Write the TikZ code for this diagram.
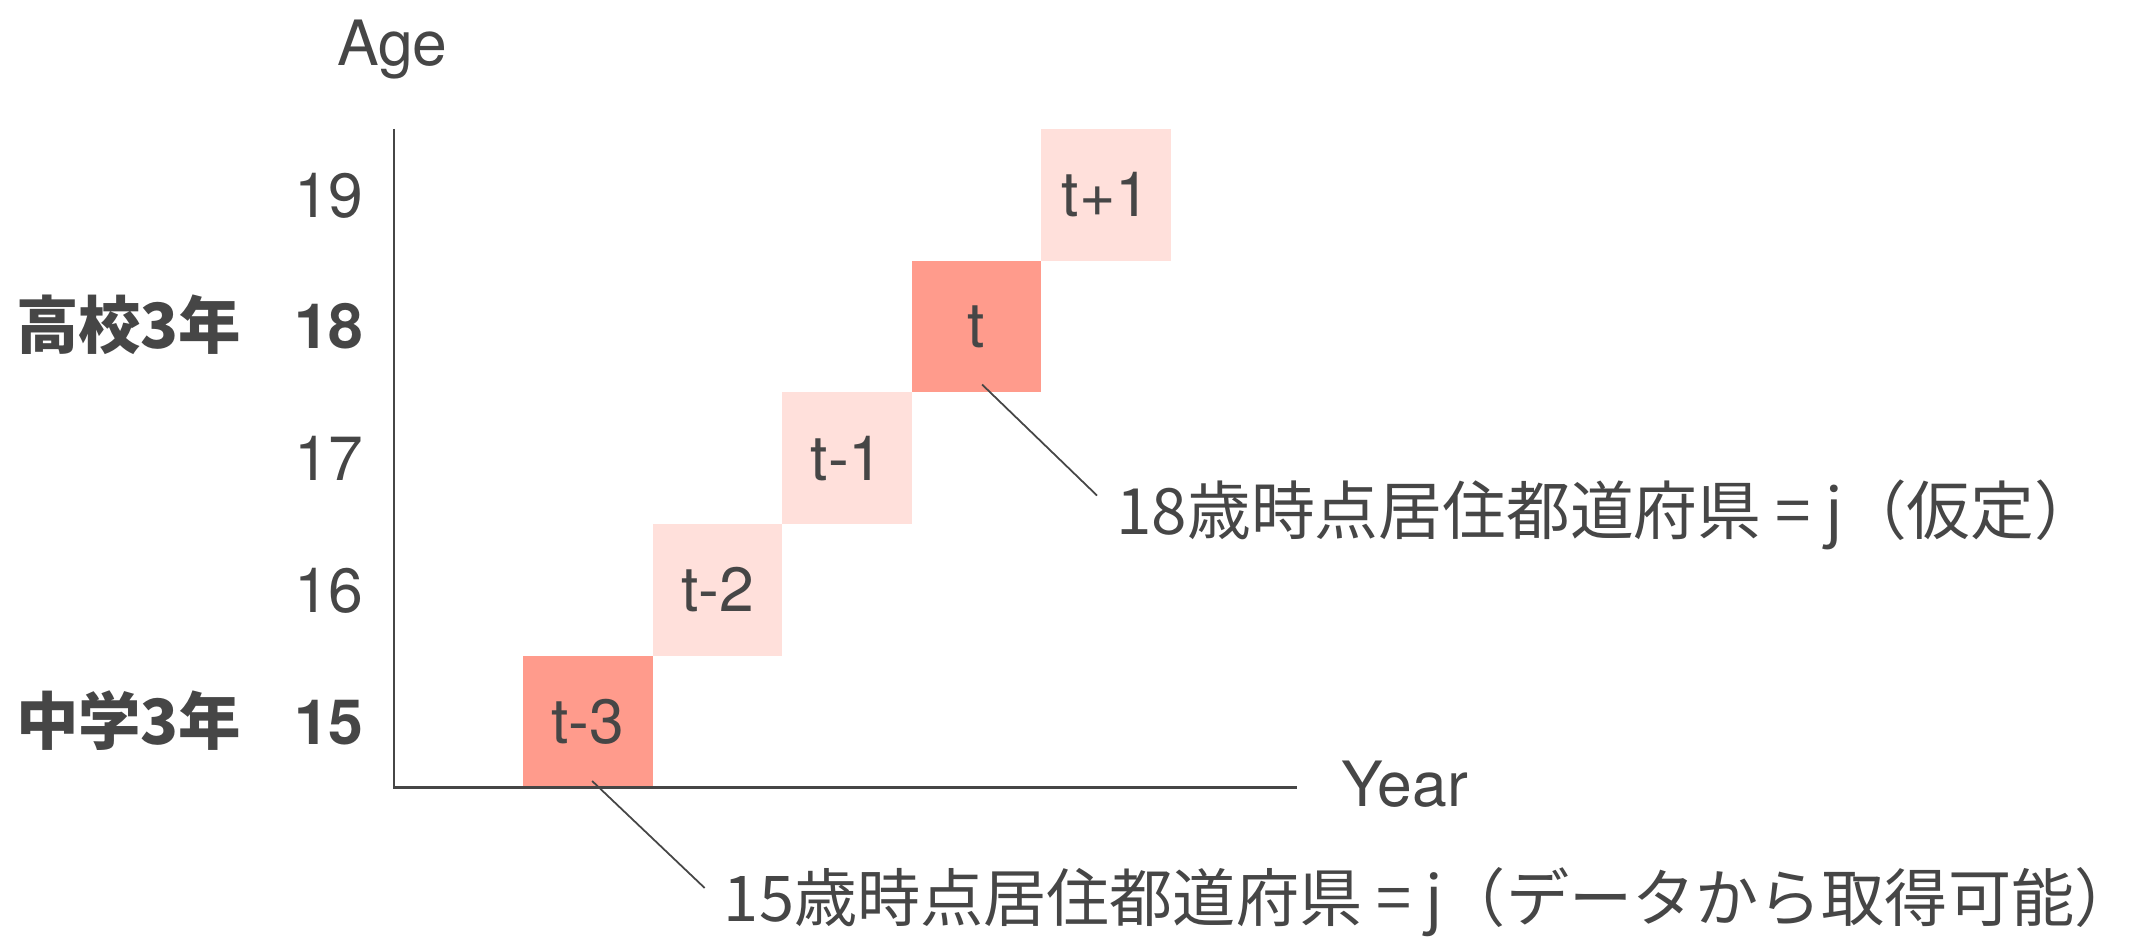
\documentclass[tikz,border=0pt]{standalone}
\usepackage{fontspec}
\setmainfont{TeX Gyre Heros}
\newfontfamily\cjk{Noto Sans CJK JP}
\definecolor{txt}{HTML}{464646}
\definecolor{darkcell}{HTML}{FF9B8C}
\definecolor{lightcell}{HTML}{FFE0DB}
\begin{document}
\begin{tikzpicture}[x=1pt,y=-1pt,
  every node/.style={inner sep=0pt, text=txt, font=\fontsize{46}{52}\selectfont},
  cellbox/.style={minimum width=95.4pt, minimum height=97pt, draw=none},
  darkbox/.style={cellbox, fill=darkcell},
  lightbox/.style={cellbox, fill=lightcell},
  axisline/.style={draw=txt, line width=1.6pt},
  leader/.style={draw=txt, line width=1.3pt},
  rowlab/.style={anchor=base east},
  boldlab/.style={anchor=base east, font=\fontsize{46}{52}\selectfont\cjk\bfseries},
  note/.style={anchor=base west, font=\fontsize{47}{52}\selectfont\cjk}
]
\useasboundingbox (0,0) rectangle (1568,695);
% cells
\node[darkbox]  (c3) at (433.1,531.5) {t-3};
\node[lightbox] (c2) at (528.5,434.5) {t-2};
\node[lightbox] (c1) at (623.9,337.5) {t-1};
\node[darkbox]  (c0) at (719.3,240.5) {t};
\node[lightbox] (cp) at (814.7,143.5) {t+1};
% axes
\coordinate (ytop) at (290,95);
\coordinate (xend) at (955,580);
\draw[axisline] (ytop) |- (xend);
\node[anchor=base] (age) at (289,48) {Age};
\node[anchor=base west] (year) at (988,594) {Year};
% row labels
\node[rowlab] (r19) at (268,160) {19};
\node[rowlab, font=\fontsize{46}{52}\selectfont\bfseries] (r18) at (268,257) {18};
\node[rowlab] (r17) at (268,354) {17};
\node[rowlab] (r16) at (268,451) {16};
\node[rowlab, font=\fontsize{46}{52}\selectfont\bfseries] (r15) at (268,548) {15};
\node[boldlab] (hs) at (178,257) {高校3年};
\node[boldlab] (jhs) at (178,548) {中学3年};
% notes
\node[note] (n18) at (822,394) {18歳時点居住都道府県 = j（仮定）};
\node[note, font=\fontsize{46.5}{52}\selectfont\cjk] (n15) at (533,679) {15歳時点居住都道府県 = j（データから取得可能）};
\coordinate (e18) at (808,365);
\coordinate (e15) at (519,654);
\draw[leader] ([xshift=4pt,yshift=6pt]c0.south) -- (e18);
\draw[leader] ([xshift=3pt,yshift=5pt]c3.south) -- (e15);
\end{tikzpicture}
\end{document}
